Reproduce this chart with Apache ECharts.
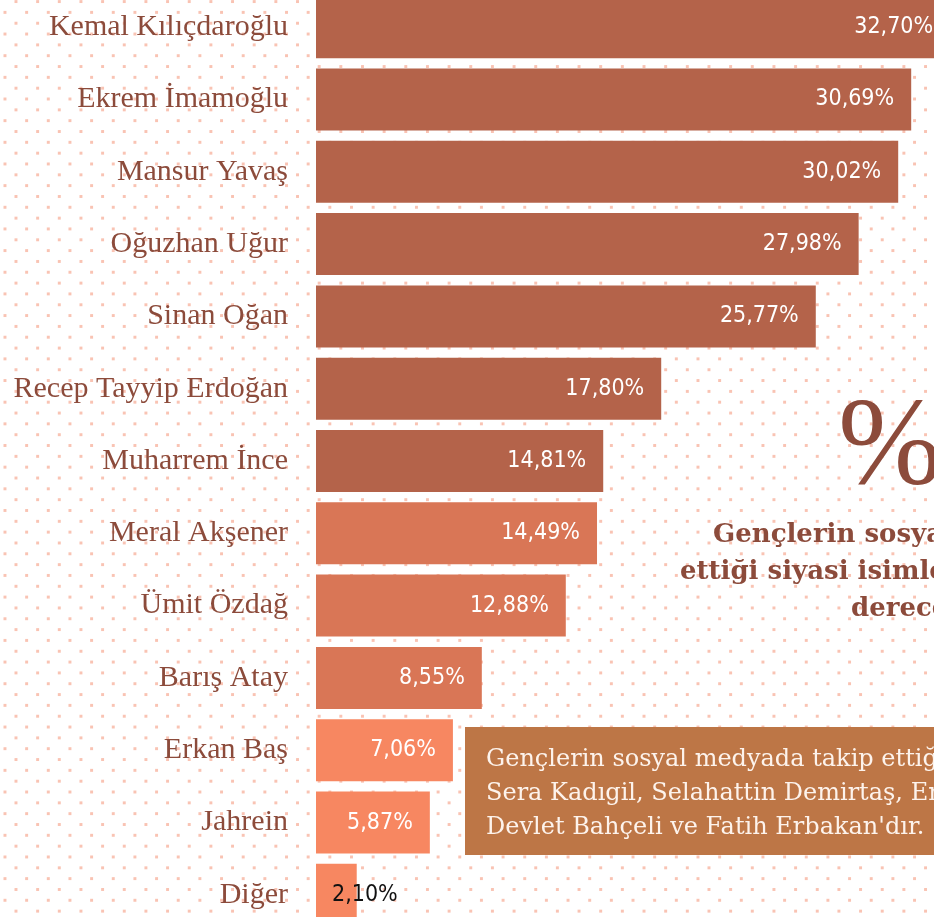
<!DOCTYPE html>
<html>
<head>
<meta charset="utf-8">
<script src="https://cdn.jsdelivr.net/npm/echarts@6/dist/echarts.min.js"></script>
<style>
html, body {
  margin: 0;
  padding: 0;
  width: 934px;
  height: 917px;
  overflow: hidden;
}
body {
  position: relative;
  background-color: #ffffff;
  background-image:
    radial-gradient(circle at 1.5px 1.5px, #f9c3b3 1.4px, transparent 1.7px),
    radial-gradient(circle at 1.5px 1.5px, #f9c3b3 1.4px, transparent 1.7px);
  background-size: 21.67px 21.67px, 21.67px 21.67px;
  background-position: 14.5px 0.1px, 3.5px 10.9px;
}
/* grafik pencereden taşıyor: sağda ve üst/altta kesik */
#chart {
  position: absolute;
  left: 0;
  top: -9px;
  width: 956px;
  height: 940px;
}
</style>
</head>
<body>
<div id="chart"></div>
<script>
// isimler ve yüzdeler (yukarıdan aşağıya)
var names = [
  "Kemal Kılıçdaroğlu", "Ekrem İmamoğlu", "Mansur Yavaş", "Oğuzhan Uğur",
  "Sinan Oğan", "Recep Tayyip Erdoğan", "Muharrem İnce", "Meral Akşener",
  "Ümit Özdağ", "Barış Atay", "Erkan Baş", "Jahrein", "Diğer"
];
var values = [32.70, 30.69, 30.02, 27.98, 25.77, 17.80, 14.81, 14.49, 12.88, 8.55, 7.06, 5.87, 2.10];

var titleLines = ["Gençlerin sosyal medyada", "ettiği siyasi isimler ve", "dereceleri"];
var noteLines = [
  "Gençlerin sosyal medyada takip ettiği",
  "Sera Kadıgil, Selahattin Demirtaş, Er",
  "Devlet Bahçeli ve Fatih Erbakan'dır."
];

var labelFont = "'DejaVu Sans Condensed', 'Liberation Sans Narrow', sans-serif";
var textColor = "#8c4b3b";

function barColor(i) {
  if (i < 7) return "#b4634a";
  if (i < 10) return "#d97656";
  return "#f78761";
}

function fmt(v) {
  return v.toFixed(2).replace(".", ",") + "%";
}

var chart = echarts.init(document.getElementById("chart"));

var seriesData = values.map(function (v, i) {
  var item = { value: v, itemStyle: { color: barColor(i) } };
  if (i === values.length - 1) {
    item.label = { position: "insideLeft", distance: 16, color: "#111111" };
  }
  return item;
});

var dy = 9; // kap kayması
var graphics = [];
graphics.push({
  type: "text",
  x: 838,
  y: 450 + dy,
  style: {
    text: "%",
    font: "125px 'Liberation Serif', serif",
    fill: textColor,
    textVerticalAlign: "middle"
  }
});
var titleX = [713, 680, 851];
titleLines.forEach(function (t, i) {
  graphics.push({
    type: "text",
    x: titleX[i],
    y: 535 + i * 37 + dy,
    style: {
      text: t,
      font: "bold 26px 'DejaVu Serif', serif",
      fill: textColor,
      textVerticalAlign: "middle"
    }
  });
});
graphics.push({
  type: "rect",
  shape: { x: 465, y: 727 + dy, width: 520, height: 128 },
  style: { fill: "#bd7646" }
});
noteLines.forEach(function (t, i) {
  graphics.push({
    type: "text",
    x: 486,
    y: 760 + i * 34 + dy,
    style: {
      text: t,
      font: "24px 'DejaVu Serif', serif",
      fill: "#fdf3ec",
      textVerticalAlign: "middle"
    }
  });
});

chart.setOption({
  animation: false,
  grid: { left: 316, right: 0, top: 0, bottom: 0, containLabel: false },
  xAxis: {
    type: "value",
    min: 0,
    max: 33,
    show: false
  },
  yAxis: {
    type: "category",
    inverse: true,
    data: names,
    axisLine: { show: false },
    axisTick: { show: false },
    axisLabel: {
      margin: 28,
      color: textColor,
      fontFamily: "'Liberation Serif', serif",
      fontSize: 30
    }
  },
  series: [{
    type: "bar",
    barWidth: 62,
    data: seriesData,
    label: {
      show: true,
      position: "insideRight",
      distance: 17,
      color: "#ffffff",
      fontFamily: labelFont,
      fontSize: 23,
      formatter: function (p) { return fmt(p.value); }
    }
  }],
  graphic: graphics
});
</script>
</body>
</html>
